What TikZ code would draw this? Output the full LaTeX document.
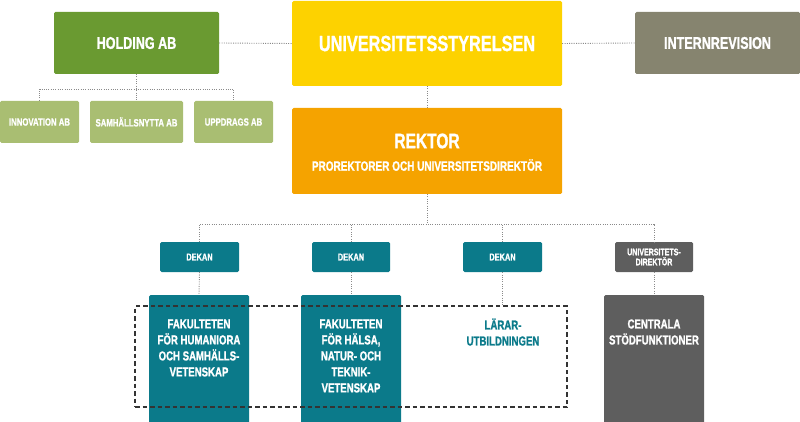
\documentclass[tikz,border=0pt]{standalone}
\usepackage{fontspec}
\setmainfont{Liberation Sans}[FakeStretch=0.74,FakeBold=1.2]
\definecolor{hgreen}{HTML}{6A9A31}
\definecolor{lgreen}{HTML}{A9BE72}
\definecolor{uyellow}{HTML}{FDD200}
\definecolor{rorange}{HTML}{F5A300}
\definecolor{igray}{HTML}{86846F}
\definecolor{uteal}{HTML}{0B7A8A}
\definecolor{dgray}{HTML}{5E5E5E}
\definecolor{lgray}{HTML}{8A8A8A}
\begin{document}
\begin{tikzpicture}[x=1pt,y=-1pt,
  box/.style={rectangle,rounded corners=1.5pt,inner sep=0pt,text=white,font=\bfseries,align=center},
  txt/.style={inner sep=0pt,text=white,font=\bfseries,align=center},
  dots/.style={draw=lgray,line width=0.9pt,dash pattern=on 1pt off 1.3pt},
  dashbox/.style={rectangle,draw=black!80,line width=1.1pt,dash pattern=on 4.5pt off 3pt,inner sep=0pt}]
\useasboundingbox (0,0) rectangle (800,422);
% top row
\node[box,fill=hgreen,minimum width=165pt,minimum height=62pt,font=\bfseries\fontsize{17}{19}\selectfont] (holding) at (136.5,43) {HOLDING AB};
\node[box,fill=uyellow,minimum width=270pt,minimum height=85pt,font=\bfseries\fontsize{22}{24}\selectfont] (styrelse) at (427,43.5) {UNIVERSITETSSTYRELSEN};
\node[box,fill=igray,minimum width=165pt,minimum height=62pt,font=\bfseries\fontsize{17}{19}\selectfont] (intern) at (717.5,43) {INTERNREVISION};
% subsidiaries
\node[box,fill=lgreen,minimum width=79pt,minimum height=42pt,font=\bfseries\fontsize{10.5}{12}\selectfont] (innov) at (39.5,122) {INNOVATION AB};
\node[box,fill=lgreen,minimum width=93pt,minimum height=42pt,font=\bfseries\fontsize{10.5}{12}\selectfont] (samh) at (136.5,122) {SAMHÄLLSNYTTA AB};
\node[box,fill=lgreen,minimum width=79pt,minimum height=42pt,font=\bfseries\fontsize{10.5}{12}\selectfont] (uppdrag) at (233.5,122) {UPPDRAGS AB};
% rektor
\node[box,fill=rorange,minimum width=270pt,minimum height=86pt] (rektor) at (427,151) {};
\node[txt,font=\bfseries\fontsize{21}{23}\selectfont] (rektortxt) at (427,141) {REKTOR};
\node[txt,font=\bfseries\fontsize{13.5}{15}\selectfont] (rektorsub) at (427,165) {PROREKTORER OCH UNIVERSITETSDIREKTÖR};
% dekan row
\node[box,fill=uteal,minimum width=79pt,minimum height=30pt,font=\bfseries\fontsize{10}{11}\selectfont] (dekan1) at (199.5,257) {DEKAN};
\node[box,fill=uteal,minimum width=78pt,minimum height=30pt,font=\bfseries\fontsize{10}{11}\selectfont] (dekan2) at (351,257) {DEKAN};
\node[box,fill=uteal,minimum width=79pt,minimum height=30pt,font=\bfseries\fontsize{10}{11}\selectfont] (dekan3) at (502.5,257) {DEKAN};
\node[box,fill=dgray,minimum width=78pt,minimum height=30pt,font=\bfseries\fontsize{9.5}{10}\selectfont] (unidir) at (654,257) {UNIVERSITETS-\\DIREKTÖR};
% faculties
\node[box,fill=uteal,minimum width=100pt,minimum height=130pt] (fak1) at (199,360) {};
\node[box,fill=uteal,minimum width=100pt,minimum height=130pt] (fak2) at (351,360) {};
\node[box,fill=dgray,minimum width=100pt,minimum height=130pt] (central) at (654,360) {};
\node[txt,font=\bfseries\fontsize{13}{16}\selectfont] (fak1txt) at (199,348) {FAKULTETEN\\FÖR HUMANIORA\\OCH SAMHÄLLS-\\VETENSKAP};
\node[txt,font=\bfseries\fontsize{13}{16}\selectfont] (fak2txt) at (351,356) {FAKULTETEN\\FÖR HÄLSA,\\NATUR- OCH\\TEKNIK-\\VETENSKAP};
\node[txt,text=uteal,font=\bfseries\fontsize{13}{16}\selectfont] (larartxt) at (503,332) {LÄRAR-\\UTBILDNINGEN};
\node[txt,font=\bfseries\fontsize{13}{16}\selectfont] (centraltxt) at (654,332) {CENTRALA\\STÖDFUNKTIONER};
\node[dashbox,minimum width=432pt,minimum height=101pt] (lararbox) at (351,356.5) {};
% connectors
\coordinate (hbus) at (136.5,89);
\coordinate (rbus) at (427,224);
\draw[dots] (holding.east) -- (styrelse.west);
\draw[dots] (styrelse.east) -- (intern.west);
\draw[dots] (holding.south) -- (samh.north);
\draw[dots] (innov.north) -- (innov.north |- hbus) -- (uppdrag.north |- hbus) -- (uppdrag.north);
\draw[dots] (styrelse.south) -- (rektor.north);
\draw[dots] (rektor.south) -- (rbus);
\draw[dots] (dekan1.north) -- (dekan1.north |- rbus) -- (unidir.north |- rbus) -- (unidir.north);
\draw[dots] (dekan2.north) -- (dekan2.north |- rbus);
\draw[dots] (dekan3.north) -- (dekan3.north |- rbus);
\draw[dots] (dekan1.south) -- (fak1.north);
\draw[dots] (dekan2.south) -- (fak2.north);
\draw[dots] (dekan3.south) -- (dekan3.south |- lararbox.north);
\draw[dots] (unidir.south) -- (central.north);
\end{tikzpicture}
\end{document}
